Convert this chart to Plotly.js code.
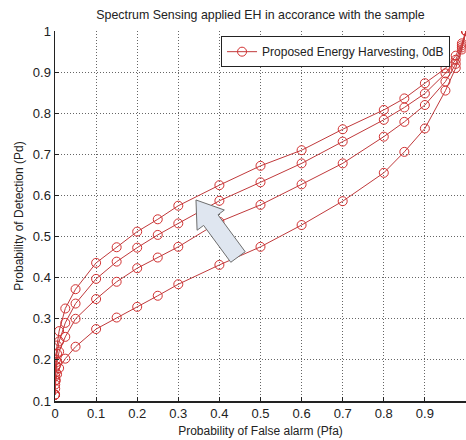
<!DOCTYPE html>
<html>
<head>
<meta charset="utf-8">
<script src="https://cdn.plot.ly/plotly-3.0.1.min.js"></script>
<style>html,body{margin:0;padding:0;background:#fff;} #chart{width:466px;height:440px;}</style>
</head>
<body>
<div id="chart"></div>
<script>
// Probability of false alarm (x) sample points
const pfa = [0, 0.0005, 0.002, 0.005, 0.01, 0.025, 0.05, 0.1, 0.15, 0.2, 0.25, 0.3, 0.4, 0.5, 0.6, 0.7, 0.8, 0.85, 0.9, 0.95, 0.975, 0.99, 1];
// Probability of detection curves (top to bottom)
const pd1 = [0.115, 0.16, 0.2, 0.235, 0.27, 0.325, 0.372, 0.436, 0.474, 0.512, 0.542, 0.575, 0.625, 0.672, 0.71, 0.761, 0.808, 0.836, 0.873, 0.909, 0.94, 0.97, 1.0];
const pd2 = [0.115, 0.15, 0.185, 0.215, 0.245, 0.29, 0.337, 0.397, 0.439, 0.473, 0.504, 0.532, 0.587, 0.632, 0.678, 0.731, 0.784, 0.814, 0.848, 0.897, 0.93, 0.965, 1.0];
const pd3 = [0.115, 0.14, 0.17, 0.195, 0.22, 0.256, 0.3, 0.348, 0.39, 0.423, 0.449, 0.475, 0.536, 0.577, 0.627, 0.678, 0.743, 0.779, 0.82, 0.877, 0.92, 0.96, 1.0];
const pd4 = [0.115, 0.13, 0.15, 0.165, 0.18, 0.203, 0.232, 0.275, 0.303, 0.329, 0.356, 0.384, 0.431, 0.475, 0.528, 0.586, 0.655, 0.706, 0.763, 0.855, 0.91, 0.955, 1.0];
const xTicks = [0, 0.1, 0.2, 0.3, 0.4, 0.5, 0.6, 0.7, 0.8, 0.9, 1];
const xTickLabels = ['0', '0.1', '0.2', '0.3', '0.4', '0.5', '0.6', '0.7', '0.8', '0.9', '1'];
const yTicks = [0.1, 0.2, 0.3, 0.4, 0.5, 0.6, 0.7, 0.8, 0.9, 1];
const yTickLabels = ['0.1', '0.2', '0.3', '0.4', '0.5', '0.6', '0.7', '0.8', '0.9', '1'];
const seriesName = 'Proposed Energy Harvesting, 0dB';

const lineColor = '#c0393b';
const markerColor = '#d23232';
const curves = [pd1, pd2, pd3, pd4];
const traces = curves.map((ys, i) => ({
  x: pfa, y: ys, type: 'scatter', mode: 'lines+markers',
  name: seriesName, showlegend: i === 0,
  line: {color: lineColor, width: 1},
  marker: {symbol: 'circle-open', size: 9, color: markerColor, line: {width: 1, color: markerColor}},
  cliponaxis: true
}));

const font = {family: 'Liberation Sans, Arial, sans-serif', size: 13, color: '#222'};
const layout = {
  width: 466, height: 440,
  margin: {l: 55, r: 0, t: 31, b: 39},
  paper_bgcolor: '#fff', plot_bgcolor: '#fff',
  font: font,
  showlegend: true,
  title: {text: 'Spectrum Sensing applied EH in accorance with the sample', font: {size: 12.4, family: font.family, color: '#222'}, x: 0.5, xanchor: 'center', y: 0.966, yanchor: 'middle', xref: 'paper', yref: 'container'},
  xaxis: {
    range: [0, 1], tickvals: xTicks, ticktext: xTickLabels,
    showgrid: true, gridcolor: '#666', griddash: '1px,2px', gridwidth: 1,
    zeroline: false, showline: true, linecolor: '#222', linewidth: 1.5,
    ticks: 'inside', ticklen: 4, tickcolor: '#222',
    title: {text: 'Probability of False alarm (Pfa)', font: {size: 12}, standoff: 6},
    fixedrange: true
  },
  yaxis: {
    range: [0.1, 1], tickvals: yTicks, ticktext: yTickLabels,
    showgrid: true, gridcolor: '#666', griddash: '1px,2px', gridwidth: 1,
    zeroline: false, showline: true, linecolor: '#222', linewidth: 1.5,
    ticks: 'inside', ticklen: 4, tickcolor: '#222',
    title: {text: 'Probability of Detection (Pd)', font: {size: 12}, standoff: 6},
    fixedrange: true
  },
  legend: {
    x: 0.404, y: 0.986, xanchor: 'left', yanchor: 'top',
    bgcolor: '#fff', bordercolor: '#222', borderwidth: 1,
    font: {size: 12, family: font.family, color: '#222'},
    itemwidth: 30, tracegroupgap: 0
  },
  shapes: [{
    type: 'path', xref: 'x', yref: 'y',
    path: 'M 0.343 0.589 L 0.412 0.5646 L 0.3966 0.5529 L 0.4628 0.4631 L 0.4277 0.4374 L 0.3616 0.5271 L 0.3457 0.5154 Z',
    fillcolor: '#dfe6f0', line: {color: '#6e6e6e', width: 1}, layer: 'above'
  }]
};
Plotly.newPlot('chart', traces, layout, {staticPlot: true, displayModeBar: false});
</script>
</body>
</html>
